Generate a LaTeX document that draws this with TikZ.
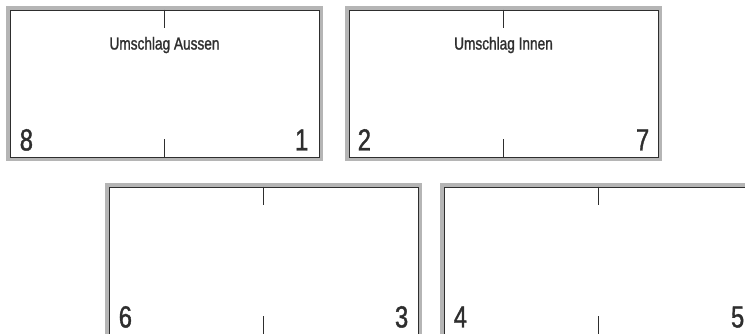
\documentclass[tikz,border=0pt]{standalone}
\usepackage{fontspec}
\newfontfamily\narrowsans[FakeStretch=0.78, FakeBold=1.2]{Liberation Sans}
\definecolor{sheetgrey}{HTML}{B5B5B5}
\definecolor{sheetline}{HTML}{2E2E2E}

\begin{document}
\begin{tikzpicture}[x=1pt, y=-1pt,
        sheet/.style={draw=sheetline, line width=0.9pt, fill=white, inner sep=0pt,
                      minimum width=309pt, minimum height=147pt,
                      preaction={draw=sheetgrey, line width=8pt}},
        title/.style={font=\narrowsans\fontsize{17.5}{20}\selectfont, text=sheetline,
                      inner sep=0pt, anchor=base},
        pagenum/.style={font=\narrowsans\fontsize{30.5}{34}\selectfont, text=sheetline, inner sep=0pt},
        fold/.style={draw=sheetline, line width=0.8pt}
      ]
        \clip (0,0) rectangle (745,334);

        \node[sheet] (ua)  at (164.5,83.5)  {};
        \node[sheet] (ui)  at (503.5,83.5)  {};
        \node[sheet] (p63) at (263.5,260.5) {};
        \node[sheet] (p45) at (598.5,260.5) {};

        \node[title, yshift=-40pt] (uatitle) at (ua.north) {Umschlag Aussen};
        \node[title, yshift=-40pt] (uititle) at (ui.north) {Umschlag Innen};

        \node[pagenum, anchor=base west, xshift=10pt,  yshift=7pt] (n8) at (ua.south west)  {8};
        \node[pagenum, anchor=base east, xshift=-11pt, yshift=7pt] (n1) at (ua.south east)  {1};
        \node[pagenum, anchor=base west, xshift=9pt,   yshift=7pt] (n2) at (ui.south west)  {2};
        \node[pagenum, anchor=base east, xshift=-9pt,  yshift=7pt] (n7) at (ui.south east)  {7};
        \node[pagenum, anchor=base west, xshift=10pt,  yshift=7pt] (n6) at (p63.south west) {6};
        \node[pagenum, anchor=base east, xshift=-10pt, yshift=7pt] (n3) at (p63.south east) {3};
        \node[pagenum, anchor=base west, xshift=10pt,  yshift=7pt] (n4) at (p45.south west) {4};
        \node[pagenum, anchor=base east, xshift=-9pt,  yshift=7pt] (n5) at (p45.south east) {5};

        \foreach \s in {ua,ui,p63,p45} {
          \draw[fold] (\s.north) -- ++(0,18);
          \draw[fold] (\s.south) -- ++(0,-18);
        }
      \end{tikzpicture}
\end{document}
